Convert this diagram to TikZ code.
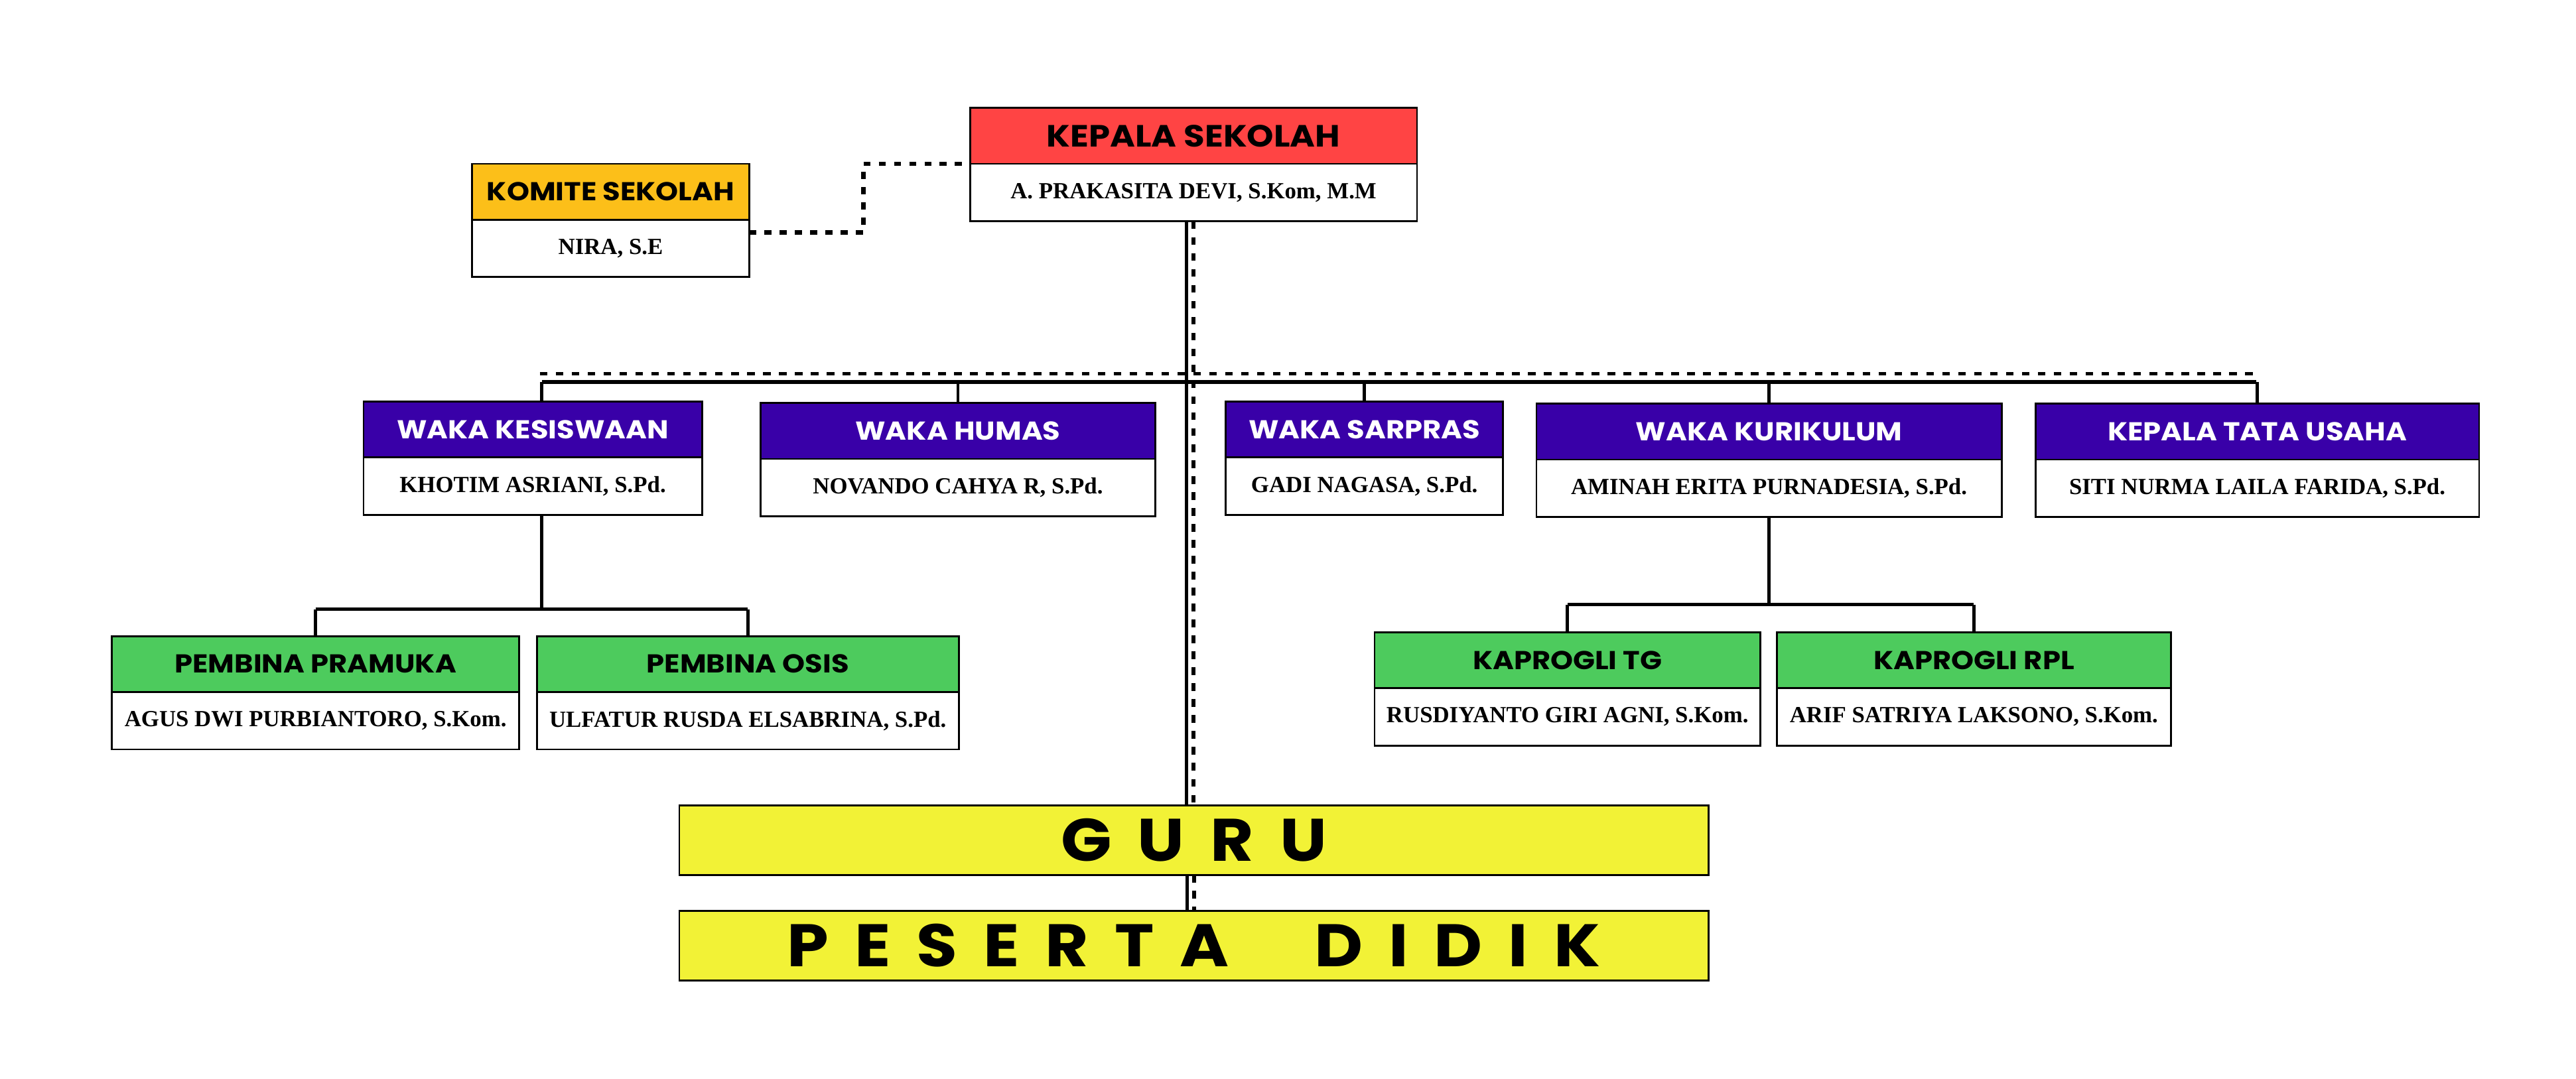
\documentclass[tikz,border=0pt]{standalone}
\usepackage{fontspec}
\setmainfont{Liberation Serif}
\newfontfamily\headfont[FakeStretch=1.11]{Poppins}
\usetikzlibrary{positioning}

\definecolor{kepalared}{HTML}{FF4444}
\definecolor{komiteorange}{HTML}{FCBF19}
\definecolor{wakapurple}{HTML}{3900A8}
\definecolor{pembinagreen}{HTML}{4DCB5D}
\definecolor{guruyellow}{HTML}{F2F236}

\begin{document}
\begin{tikzpicture}[x=0.25mm,y=-0.25mm,
  head/.style={draw, line width=0.8pt, inner sep=0pt, outer sep=0pt, minimum height=8.5mm,
    font=\headfont\bfseries\fontsize{11.2}{13}\selectfont},
  body/.style={draw, fill=white, line width=0.8pt, inner sep=0pt, outer sep=0pt, minimum height=8.75mm,
    font=\bfseries\fontsize{10}{11}\selectfont},
  waka/.style={head, fill=wakapurple, text=white},
  pembina/.style={head, fill=pembinagreen},
  banner/.style={draw, line width=0.8pt, fill=guruyellow, inner sep=0pt, outer sep=0pt,
    minimum width=156.6mm, minimum height=10.6mm,
    font=\headfont\bfseries\fontsize{26}{30}\selectfont\addfontfeature{LetterSpace=43}},
  link/.style={line width=1.43pt},
  bus/.style={line width=1.5pt},
  dotline/.style={line width=1.6pt, dash pattern=on 3.3pt off 3.6pt},
  komiteline/.style={line width=1.9pt, dash pattern=on 3pt off 3.6pt},
  koordinasi/.style={line width=1.7pt, dash pattern=on 3.3pt off 3.6pt}]
  \useasboundingbox (0,0) rectangle (1568,656.6);

  % kepala sekolah dan komite
  \node[head, fill=kepalared, minimum width=68mm, font=\headfont\bfseries\fontsize{13.3}{15}\selectfont]
    (kepH) at (726.5,82.75) {KEPALA SEKOLAH};
  \node[body, minimum width=68mm, below=0pt of kepH] (kepB) {A. PRAKASITA DEVI, S.Kom, M.M};
  \node[head, fill=komiteorange, minimum width=42.2mm] (komH) at (371.7,116.7) {KOMITE SEKOLAH};
  \node[body, minimum width=42.2mm, below=0pt of komH] (komB) {NIRA, S.E};

  % wakil kepala
  \node[waka, minimum width=51.5mm] (kesH) at (324.3,261.4) {WAKA KESISWAAN};
  \node[body, minimum width=51.5mm, below=0pt of kesH] (kesB) {KHOTIM ASRIANI, S.Pd.};
  \node[waka, minimum width=60mm] (humH) at (583.1,262.4) {WAKA HUMAS};
  \node[body, minimum width=60mm, below=0pt of humH] (humB) {NOVANDO CAHYA R, S.Pd.};
  \node[waka, minimum width=42.2mm] (sarH) at (830.5,261.5) {WAKA SARPRAS};
  \node[body, minimum width=42.2mm, below=0pt of sarH] (sarB) {GADI NAGASA, S.Pd.};
  \node[waka, minimum width=70.8mm] (kurH) at (1076.8,262.8) {WAKA KURIKULUM};
  \node[body, minimum width=70.8mm, below=0pt of kurH] (kurB) {AMINAH ERITA PURNADESIA, S.Pd.};
  \node[waka, minimum width=67.5mm] (ktuH) at (1374,262.8) {KEPALA TATA USAHA};
  \node[body, minimum width=67.5mm, below=0pt of ktuH] (ktuB) {SITI NURMA LAILA FARIDA, S.Pd.};

  % pembina dan kaprogli
  \node[pembina, minimum width=62mm] (praH) at (192.1,404.3) {PEMBINA PRAMUKA};
  \node[body, minimum width=62mm, below=0pt of praH] (praB) {AGUS DWI PURBIANTORO, S.Kom.};
  \node[pembina, minimum width=64.2mm] (osiH) at (455.2,404.3) {PEMBINA OSIS};
  \node[body, minimum width=64.2mm, below=0pt of osiH] (osiB) {ULFATUR RUSDA ELSABRINA, S.Pd.};
  \node[pembina, minimum width=58.7mm] (tgH) at (954.1,402) {KAPROGLI TG};
  \node[body, minimum width=58.7mm, below=0pt of tgH] (tgB) {RUSDIYANTO GIRI AGNI, S.Kom.};
  \node[pembina, minimum width=59.9mm] (rplH) at (1201.5,402) {KAPROGLI RPL};
  \node[body, minimum width=59.9mm, below=0pt of rplH] (rplB) {ARIF SATRIYA LAKSONO, S.Kom.};

  % guru dan peserta didik
  \node[banner] (guru) at (726.7,511.5) {GURU};
  \node[banner] (pes) at (726.7,575.8) {PESERTA\hspace{13mm}DIDIK};

  % garis
  \coordinate (busL) at (329.9,232.6);
  \coordinate (busR) at (1373.5,232.6);
  \coordinate (dotL) at (328.6,227.6);
  \coordinate (dotR) at (1374.5,227.6);
  \draw[komiteline] ([yshift=2.4mm]komB.east) -- ++(69.4,0) |- (kepH.south west);
  \draw[dotline] (dotL) -- (dotR);
  \draw[bus] (busL) -- (busR);
  \draw[link] (busL) -- (busL |- kesH.north);
  \foreach \n in {humH,sarH,kurH,ktuH}
    \draw[link] (\n.north) -- (\n.north |- busL);
  \draw[link] (kesB.south -| busL) -- ++(0,57.5) coordinate (kesJ);
  \draw[bus] (praH.north |- kesJ) -- (osiH.north |- kesJ);
  \foreach \n in {praH,osiH}
    \draw[link] (\n.north) -- (\n.north |- kesJ);
  \draw[link] (kurB.south) -- ++(0,53.3) coordinate (kurJ);
  \draw[bus] (tgH.north |- kurJ) -- (rplH.north |- kurJ);
  \foreach \n in {tgH,rplH}
    \draw[link] (\n.north) -- (\n.north |- kurJ);
  \draw[link] ([xshift=-1.07mm]kepB.south) -- ([xshift=-1.07mm]kepB.south |- guru.north);
  \draw[link] ([xshift=-1.07mm]guru.south) -- ([xshift=-1.07mm]guru.south |- pes.north);
  \draw[koordinasi] (kepB.south) -- (kepB.south |- guru.north);
  \draw[koordinasi] (guru.south) -- (guru.south |- pes.north);
\end{tikzpicture}
\end{document}
